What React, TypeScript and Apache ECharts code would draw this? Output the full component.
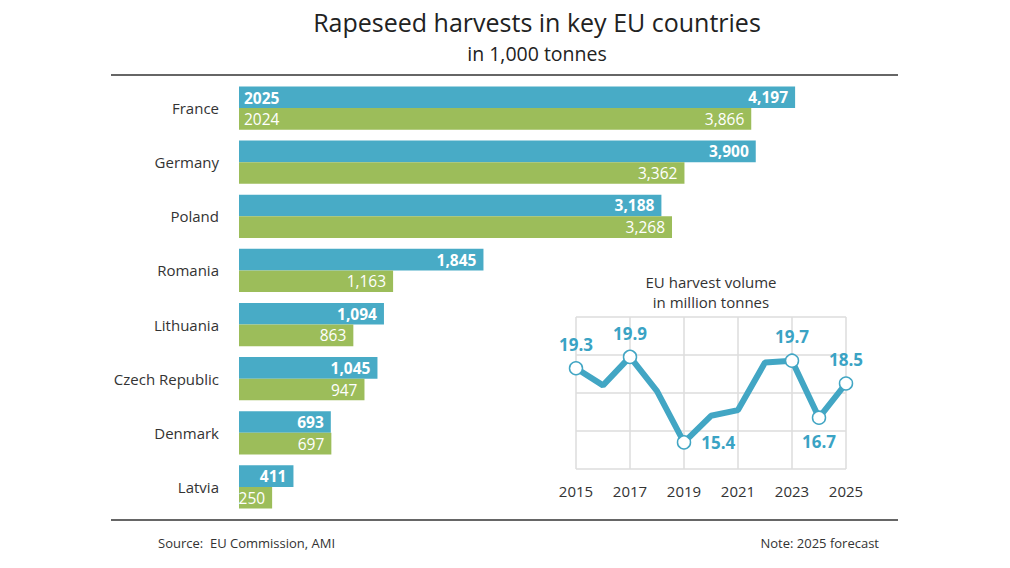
import React, { useEffect, useRef } from "react";
import * as echarts from "echarts";

const categories = ["France", "Germany", "Poland", "Romania", "Lithuania", "Czech Republic", "Denmark", "Latvia"];
const harvest2025 = [4197, 3900, 3188, 1845, 1094, 1045, 693, 411];
const harvest2024 = [3866, 3362, 3268, 1163, 863, 947, 697, 250];

const years = ["2015", "2016", "2017", "2018", "2019", "2020", "2021", "2022", "2023", "2024", "2025"];
const euVolume = [19.3, 18.4, 19.9, 18.1, 15.4, 16.8, 17.1, 19.6, 19.7, 16.7, 18.5];
const labeledYears = ["2015", "2017", "2019", "2023", "2024", "2025"];

const BLUE = "#48abc6";
const GREEN = "#9cbd5a";
const LINE = "#42a6c4";
const FONT = "'Open Sans', sans-serif";

const labelPos: Record<string, string> = {
  "2015": "top",
  "2017": "top",
  "2019": "right",
  "2023": "top",
  "2024": "bottom",
  "2025": "top",
};

const fmt = (v: number) => v.toLocaleString("en-US");

export default function App() {
  const ref = useRef<HTMLDivElement>(null);
  useEffect(() => {
    document.body.style.margin = "0";
    const chart = echarts.init(ref.current!, null, { renderer: "svg" });
    const lineData = euVolume.map((v, i) => {
      const y = years[i];
      if (labeledYears.includes(y)) {
        return {
          value: v,
          symbol: "circle",
          symbolSize: 13,
          label: {
            show: true,
            position: labelPos[y],
            distance: y === "2019" ? 10 : 8,
            formatter: (p: any) => p.value.toFixed(1),
            color: "#3aa3c4",
            fontFamily: FONT,
            fontWeight: "bold",
            fontSize: 17,
          },
        };
      }
      return { value: v, symbol: "none" };
    });
    const option: any = {
      animation: false,
      backgroundColor: "#ffffff",
      textStyle: { fontFamily: FONT },
      grid: [
        { left: 239, right: 108.5, top: 81, bottom: 54 },
        { left: 576, right: 164, top: 317, bottom: 99 },
      ],
      xAxis: [
        { gridIndex: 0, type: "value", min: 0, max: 5000, show: false },
        {
          gridIndex: 1,
          type: "category",
          data: years,
          boundaryGap: false,
          axisLine: { show: false },
          axisTick: { show: false },
          axisLabel: { interval: 1, color: "#333", fontSize: 15, fontFamily: FONT, margin: 14 },
          splitLine: { show: true, interval: 1, lineStyle: { color: "#dcdcdc", width: 1.5 } },
        },
      ],
      yAxis: [
        {
          gridIndex: 0,
          type: "category",
          data: categories,
          inverse: true,
          axisLine: { show: false },
          axisTick: { show: false },
          axisLabel: { color: "#333", fontSize: 15, fontFamily: FONT, margin: 20, padding: [0, 0, 3, 0] },
        },
        {
          gridIndex: 1,
          type: "value",
          min: 14,
          max: 22,
          interval: 2,
          axisLine: { show: false },
          axisTick: { show: false },
          axisLabel: { show: false },
          splitLine: { show: true, lineStyle: { color: "#dcdcdc", width: 1.5 } },
        },
      ],
      series: [
        {
          type: "bar",
          name: "2025",
          xAxisIndex: 0,
          yAxisIndex: 0,
          data: harvest2025,
          barGap: "0%",
          barCategoryGap: "20%",
          itemStyle: { color: BLUE },
          label: {
            show: true,
            position: "insideRight",
            distance: 7,
            color: "#fff",
            fontWeight: "bold",
            fontSize: 15.5,
            fontFamily: FONT,
            formatter: (p: any) => fmt(p.value),
          },
        },
        {
          type: "bar",
          name: "2024",
          xAxisIndex: 0,
          yAxisIndex: 0,
          data: harvest2024,
          barGap: "0%",
          barCategoryGap: "20%",
          itemStyle: { color: GREEN },
          label: {
            show: true,
            position: "insideRight",
            distance: 7,
            color: "#fff",
            fontSize: 15.5,
            fontFamily: FONT,
            formatter: (p: any) => fmt(p.value),
          },
        },
        {
          type: "line",
          xAxisIndex: 1,
          yAxisIndex: 1,
          data: lineData,
          lineStyle: { color: LINE, width: 6 },
          itemStyle: { color: "#fff", borderColor: LINE, borderWidth: 1.5 },
          z: 5,
        },
      ],
      graphic: [
        { type: "text", x: 537, y: 22, style: { text: "Rapeseed harvests in key EU countries", font: `25px ${FONT}`, fill: "#222", textAlign: "center", textVerticalAlign: "middle" } },
        { type: "text", x: 537, y: 53, style: { text: "in 1,000 tonnes", font: `19.5px ${FONT}`, fill: "#222", textAlign: "center", textVerticalAlign: "middle" } },
        { type: "line", shape: { x1: 111, y1: 75, x2: 898, y2: 75 }, style: { stroke: "#333", lineWidth: 1.5 } },
        { type: "line", shape: { x1: 111, y1: 520, x2: 898, y2: 520 }, style: { stroke: "#333", lineWidth: 1.5 } },
        { type: "text", x: 158, y: 543, style: { text: "Source:  EU Commission, AMI", font: `13px ${FONT}`, fill: "#333", textAlign: "left", textVerticalAlign: "middle" } },
        { type: "text", x: 879, y: 543, style: { text: "Note: 2025 forecast", font: `13px ${FONT}`, fill: "#333", textAlign: "right", textVerticalAlign: "middle" } },
        { type: "text", x: 711, y: 282, style: { text: "EU harvest volume", font: `15px ${FONT}`, fill: "#333", textAlign: "center", textVerticalAlign: "middle" } },
        { type: "text", x: 711, y: 302, style: { text: "in million tonnes", font: `15px ${FONT}`, fill: "#333", textAlign: "center", textVerticalAlign: "middle" } },
      ],
    };
    chart.setOption(option);
    const origin = chart.convertToPixel({ gridIndex: 0 } as any, [0, categories[0]]) as number[];
    chart.setOption({
      graphic: [
        ...option.graphic,
        { type: "text", x: origin[0] + 5, y: origin[1] - 10.5, z: 100, style: { text: "2025", font: `bold 15.5px ${FONT}`, fill: "#fff", textAlign: "left", textVerticalAlign: "middle" } },
        { type: "text", x: origin[0] + 5, y: origin[1] + 10.5, z: 100, style: { text: "2024", font: `15.5px ${FONT}`, fill: "#fff", textAlign: "left", textVerticalAlign: "middle" } },
      ],
    });
    return () => chart.dispose();
  }, []);
  return <div ref={ref} style={{ width: 1010, height: 568 }} />;
}
